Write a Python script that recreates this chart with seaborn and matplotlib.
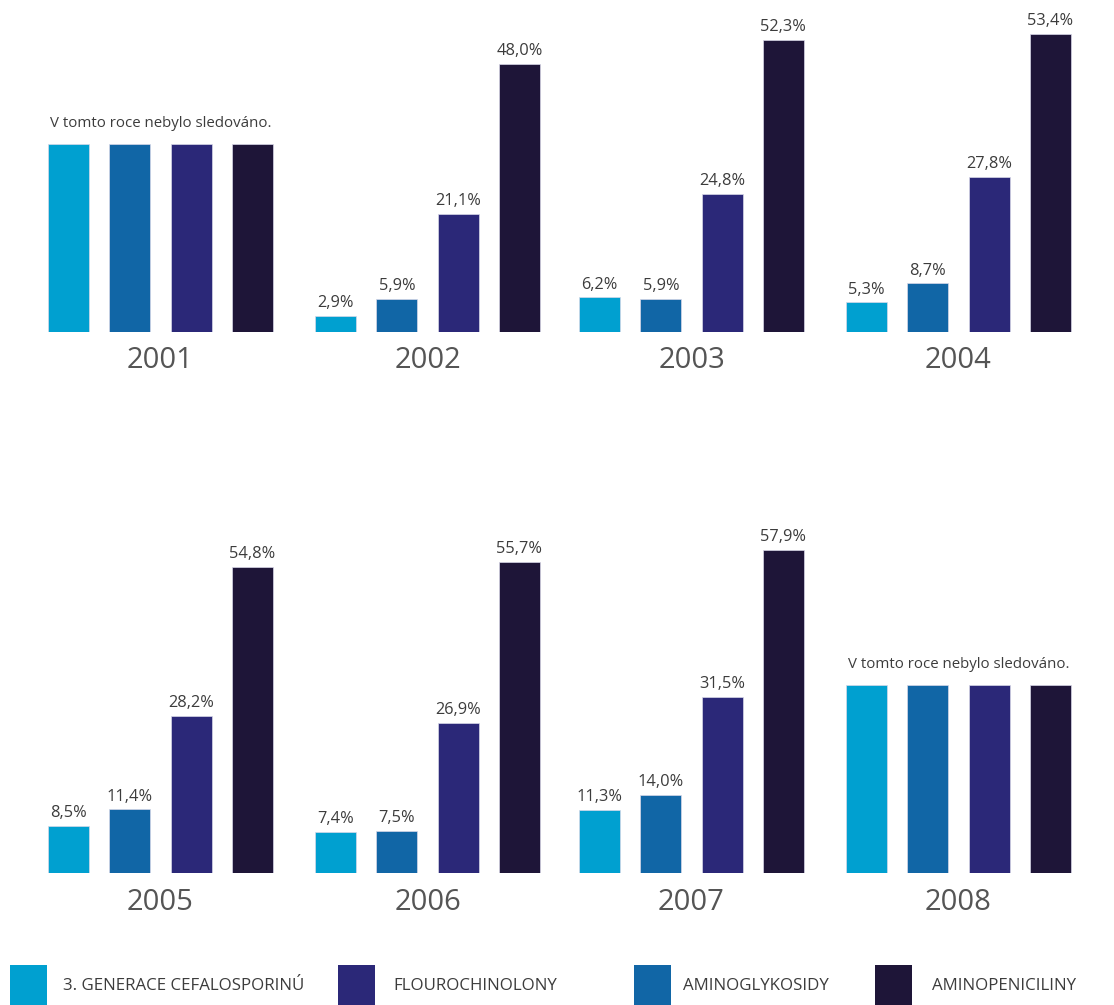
import numpy as np
import pandas as pd
import seaborn as sns
import matplotlib.pyplot as plt
from matplotlib.patches import Rectangle

# ---- data -------------------------------------------------------------
years = ["2001", "2002", "2003", "2004", "2005", "2006", "2007", "2008"]
groups = ["3. GENERACE CEFALOSPORINÚ", "AMINOGLYKOSIDY", "FLOUROCHINOLONY", "AMINOPENICILINY"]

cefalosporiny   = [np.nan, 2.9, 6.2, 5.3, 8.5, 7.4, 11.3, np.nan]
aminoglykosidy  = [np.nan, 5.9, 5.9, 8.7, 11.4, 7.5, 14.0, np.nan]
flourochinolony = [np.nan, 21.1, 24.8, 27.8, 28.2, 26.9, 31.5, np.nan]
aminopeniciliny = [np.nan, 48.0, 52.3, 53.4, 54.8, 55.7, 57.9, np.nan]

# level of the neutral bars shown for years without monitoring
not_observed_level = 33.7
not_observed_text = "V tomto roce nebylo sledováno."

colors = ["#00a0d0", "#1166a6", "#2b2878", "#1e1538"]
legend_order = [0, 2, 1, 3]

# ---- long table -------------------------------------------------------
series = [cefalosporiny, aminoglykosidy, flourochinolony, aminopeniciliny]
rows = []
for gi, g in enumerate(groups):
    for yi, y in enumerate(years):
        rows.append({"rok": y, "skupina": g, "hodnota": series[gi][yi]})
df = pd.DataFrame(rows)

# ---- figure -----------------------------------------------------------
W, H = 1114, 1005
sns.set_theme(style="white")
plt.rcParams["font.family"] = ["Open Sans", "DejaVu Sans"]
fig = plt.figure(figsize=(W / 100, H / 100), dpi=100)

col_left = [38, 305, 569, 836]
axes_w = 245
baseline = [332, 873]
ymax = 60
px_per_unit = 5.58
axes_h = ymax * px_per_unit

for i, year in enumerate(years):
    r, c = divmod(i, 4)
    left = col_left[c] / W
    bottom = 1 - baseline[r] / H
    ax = fig.add_axes([left, bottom, axes_w / W, axes_h / H])
    sub = df[df["rok"] == year].copy()
    missing = sub["hodnota"].isna().all()
    if missing:
        sub["hodnota"] = not_observed_level
    sns.barplot(data=sub, x="skupina", y="hodnota", hue="skupina",
                order=groups, hue_order=groups, palette=colors,
                saturation=1, width=0.67, legend=False, ax=ax,
                edgecolor="#d8d8e8", linewidth=0.5)
    ax.set_ylim(0, ymax)
    ax.set_xlim(-0.5, 3.5)
    ax.axis("off")
    if missing:
        ax.text(1.5, not_observed_level + 2.4, not_observed_text,
                ha="center", va="bottom", fontsize=10.8, color="#3c3c3c")
    else:
        for bar in ax.patches:
            h = bar.get_height()
            ax.annotate(f"{h:.1f}".replace(".", ",") + "%",
                        (bar.get_x() + bar.get_width() / 2, h),
                        xytext=(0, 3.5), textcoords="offset points",
                        ha="center", va="bottom", fontsize=11.8,
                        color="#3c3c3c", annotation_clip=False)
    ax.text(0.5, -29 / axes_h, year, transform=ax.transAxes,
            ha="center", va="center", fontsize=21, color="#555555")

# ---- legend -----------------------------------------------------------
legend_sq_x = [10, 338, 634, 875]
legend_txt_x = [63, 393, 683, 932]
for k, gi in enumerate(legend_order):
    fig.patches.append(Rectangle((legend_sq_x[k] / W, 0), 37 / W, 40 / H,
                                 transform=fig.transFigure,
                                 facecolor=colors[gi], edgecolor="none"))
    fig.text(legend_txt_x[k] / W, 1 - 986 / H, groups[gi],
             ha="left", va="center", fontsize=12.2, color="#3c3c3c")

fig.savefig("out.png", dpi=100)
